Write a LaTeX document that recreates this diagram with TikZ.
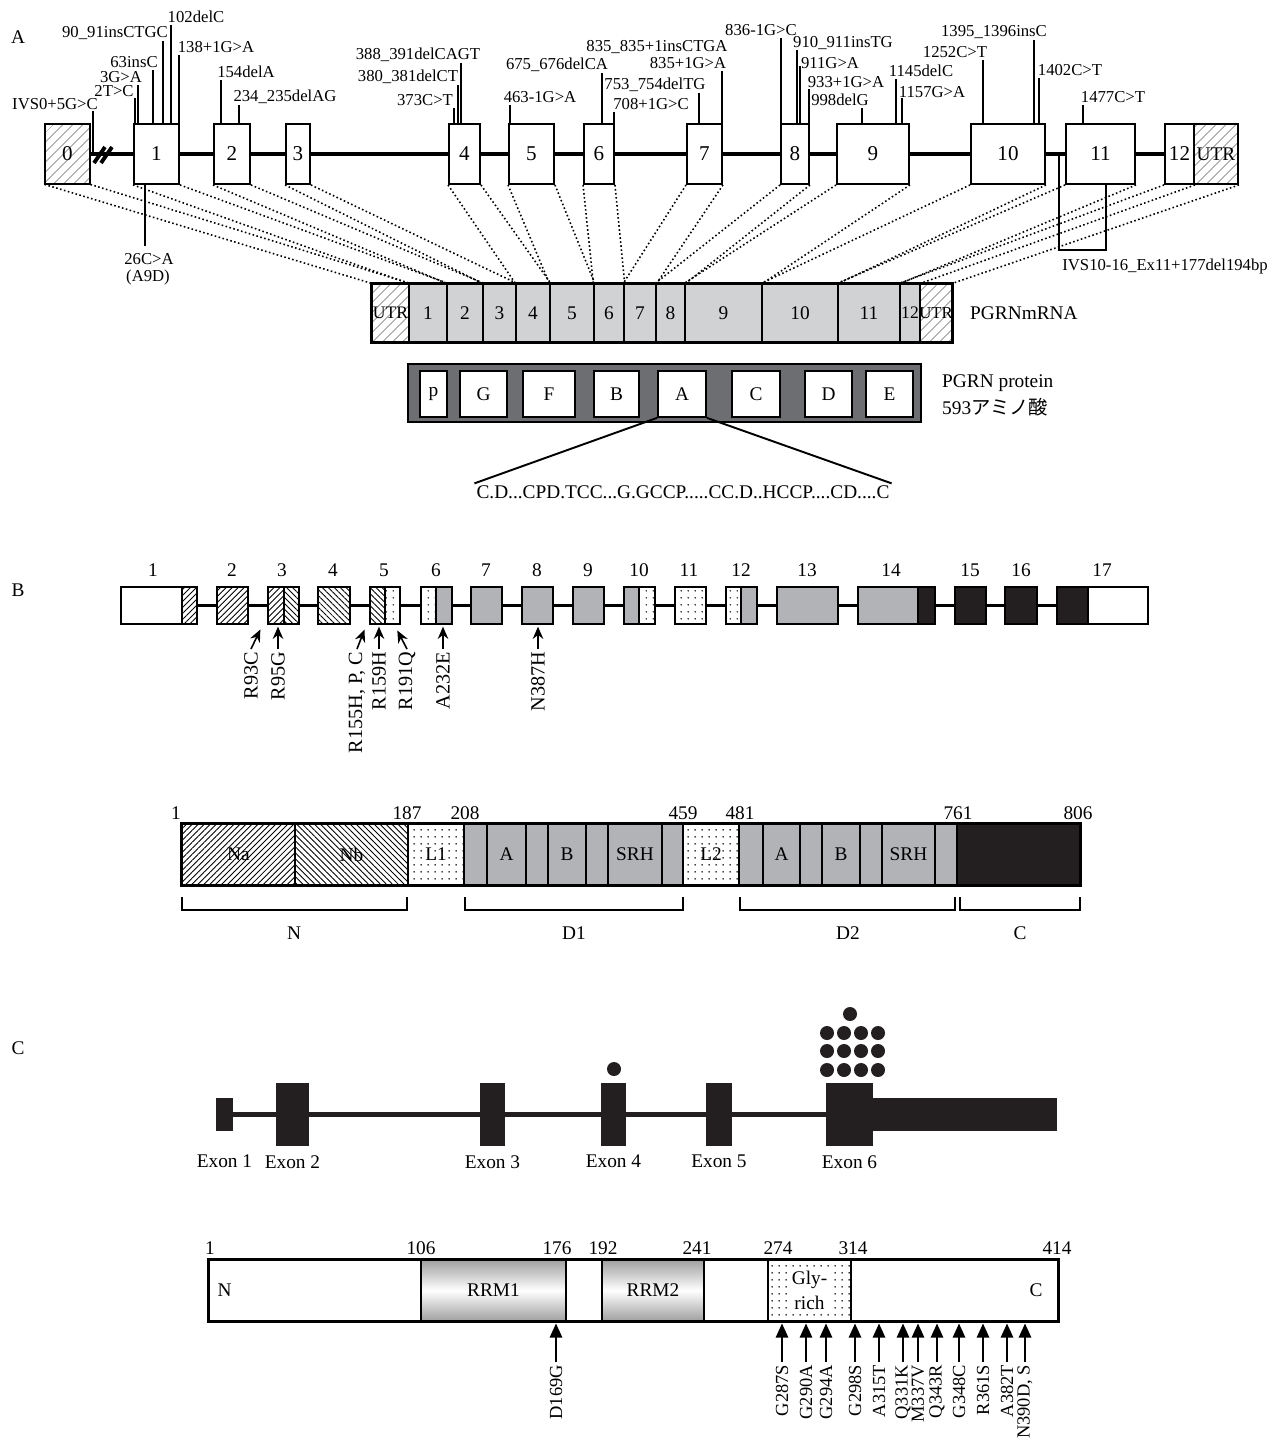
\documentclass[tikz,border=0pt]{standalone}
\usepackage{fontspec}
\setmainfont{Liberation Serif}
\newfontfamily\jafont{Noto Sans CJK JP}
\usetikzlibrary{arrows.meta,positioning,fit,patterns.meta,backgrounds}

\newcommand{\fsz}[1]{\fontsize{#1}{#1}\selectfont}
\definecolor{mgray}{HTML}{D1D2D4}
\definecolor{pgray}{HTML}{6D6E71}
\definecolor{bgray}{HTML}{B1B3B6}
\definecolor{bblack}{HTML}{231F20}
\definecolor{hgray}{HTML}{8C8C8C}

\begin{document}
\begin{tikzpicture}[x=0.02cm, y=-0.02cm,
    sec/.style={font=\fsz{11}},
    mut/.style={font=\fsz{9.5}, inner sep=0pt},
    mline/.style={line width=0.7pt},
    gline/.style={line width=2.8pt},
    tie/.style={line width=0.9pt, dash pattern=on 0.9pt off 1.4pt},
    glab/.style={label={[font=\fsz{12}]center:#1}},
    tlab/.style={label={[font=\fsz{11}]center:#1}},
    gex/.style={draw, line width=1.1pt, fill=white, inner sep=0pt},
    ghatch/.style={preaction={fill=white}, pattern={Lines[angle=45,distance=4pt,line width=0.5pt]}, pattern color=hgray},
    mcell/.style={draw, line width=0.8pt, fill=mgray, inner sep=0pt},
    pbox/.style={draw, line width=1pt, fill=white, inner sep=0pt},
    bex/.style={draw, line width=1pt, inner sep=0pt},
    bne/.style={preaction={fill=white}, pattern={Lines[angle=45,distance=2.4pt,line width=0.5pt]}},
    bnw/.style={preaction={fill=white}, pattern={Lines[angle=-45,distance=2.4pt,line width=0.5pt]}},
    bdots/.style={preaction={fill=white}, pattern={Dots[radius=0.5pt,distance=4pt]}},
    bnum/.style={font=\fsz{11}},
    barr/.style={-{Stealth[length=7pt,width=6pt]}, line width=0.9pt, shorten >=1pt},
    vlab/.style={rotate=90, anchor=east, inner sep=1.5pt, font=\fsz{11.5}},
    cvl/.style={rotate=90, anchor=east, inner sep=1.5pt, font=\fsz{10.5}},
    brk/.style={line width=1.2pt},
    cex/.style={fill=bblack, inner sep=0pt},
    cdot/.style={circle, fill=bblack, minimum size=0.28cm, inner sep=0pt},
    exl/.style={font=\fsz{11}, inner sep=0pt},
    cseg/.style={draw, line width=0.8pt, fill=white, inner sep=0pt},
    rrm/.style={top color=gray!75, bottom color=gray!75, middle color=white},
    carr/.style={-{Triangle[length=8pt,width=7pt]}, line width=1pt, shorten >=1pt}
]
\useasboundingbox (0,0) rectangle (1276,1440);

% ================= A =================
\node[sec] (secA) at (18,37) {A};

% genomic exons
\node[gex, ghatch, glab=0, fit={(45,124) (90,184)}] (g0) {};
\node[gex, glab=1, fit={(134,124) (179,184)}] (g1) {};
\node[gex, glab=2, fit={(214,124) (250,184)}] (g2) {};
\node[gex, glab=3, fit={(286,124) (310,184)}] (g3) {};
\node[gex, glab=4, fit={(449,124) (480,184)}] (g4) {};
\node[gex, glab=5, fit={(509,124) (554,184)}] (g5) {};
\node[gex, glab=6, fit={(584,124) (614,184)}] (g6) {};
\node[gex, glab=7, fit={(687,124) (722,184)}] (g7) {};
\node[gex, glab=8, fit={(781,124) (809,184)}] (g8) {};
\node[gex, glab=9, fit={(837,124) (909,184)}] (g9) {};
\node[gex, glab=10, fit={(971,124) (1045,184)}] (g10) {};
\node[gex, glab=11, fit={(1066,124) (1135,184)}] (g11) {};
\node[gex, glab=12, fit={(1165,124) (1194,184)}] (g12) {};
\node[gex, ghatch, tlab=UTR, fit={(1194,124) (1238,184)}] (gu) {};

\begin{scope}[on background layer]
\draw[gline] (g0.east) -- (g12.west);
\end{scope}
\draw[line width=2.2pt] (94,163) -- (105,147) (101,163) -- (112,147);

% mutations
\node[mut] (t1) at (55,104) {IVS0+5G>C};       \coordinate (k1) at (93,111);
\node[mut] (t2) at (114,91) {2T>C};            \coordinate (k2) at (135,98);
\node[mut] (t3) at (121,77) {3G>A};            \coordinate (k3) at (138,85);
\node[mut] (t4) at (134,62) {63insC};          \coordinate (k4) at (153,70);
\node[mut] (t5) at (115,33) {90\_91insCTGC};   \coordinate (k5) at (163,41);
\node[mut] (t6) at (196,17) {102delC};         \coordinate (k6) at (171,25);
\node[mut] (t7) at (216,47) {138+1G>A};        \coordinate (k7) at (179,55);
\node[mut] (t8) at (246,72) {154delA};         \coordinate (k8) at (221,80);
\node[mut] (t9) at (285,97) {234\_235delAG};   \coordinate (k9) at (239,105);
\node[mut] (t10) at (418,55) {388\_391delCAGT}; \coordinate (k10) at (461,63);
\node[mut] (t11) at (408,77) {380\_381delCT};  \coordinate (k11) at (458,85);
\node[mut] (t12) at (425,100) {373C>T};        \coordinate (k12) at (454,108);
\node[mut] (t13) at (540,97) {463-1G>A};       \coordinate (k13) at (510,105);
\node[mut] (t14) at (557,65) {675\_676delCA};  \coordinate (k14) at (602,73);
\node[mut] (t15) at (651,104) {708+1G>C};      \coordinate (k15) at (614,112);
\node[mut] (t16) at (655,85) {753\_754delTG};  \coordinate (k16) at (699,93);
\node[mut] (t17) at (657,47) {835\_835+1insCTGA};
\node[mut] (t18) at (688,63) {835+1G>A};       \coordinate (k18) at (722,71);
\node[mut] (t19) at (761,30) {836-1G>C};       \coordinate (k19) at (781,38);
\node[mut] (t20) at (843,43) {910\_911insTG};  \coordinate (k20) at (797,50);
\node[mut] (t21) at (830,63) {911G>A};         \coordinate (k21) at (800,66);
\node[mut] (t22) at (846,82) {933+1G>A};       \coordinate (k22) at (809,89);
\node[mut] (t23) at (840,100) {998delG};       \coordinate (k23) at (862,108);
\node[mut] (t24) at (921,71) {1145delC};       \coordinate (k24) at (896,79);
\node[mut] (t25) at (932,92) {1157G>A};        \coordinate (k25) at (902,98);
\node[mut] (t26) at (955,52) {1252C>T};        \coordinate (k26) at (983,60);
\node[mut] (t27) at (994,32) {1395\_1396insC}; \coordinate (k27) at (1034,40);
\node[mut] (t28) at (1070,70) {1402C>T};       \coordinate (k28) at (1039,78);
\node[mut] (t29) at (1113,97) {1477C>T};       \coordinate (k29) at (1083,105);

\draw[mline] (k1) -- (k1 |- g0.east);
\draw[mline] (k2) -- (k2 |- g1.north) (k3) -- (k3 |- g1.north) (k4) -- (k4 |- g1.north)
    (k5) -- (k5 |- g1.north) (k6) -- (k6 |- g1.north) (k7) -- (k7 |- g1.north);
\draw[mline] (k8) -- (k8 |- g2.north) (k9) -- (k9 |- g2.north);
\draw[mline] (k10) -- (k10 |- g4.north) (k11) -- (k11 |- g4.north) (k12) -- (k12 |- g4.north);
\draw[mline] (k13) -- (k13 |- g5.north);
\draw[mline] (k14) -- (k14 |- g6.north) (k15) -- (k15 |- g6.north);
\draw[mline] (k16) -- (k16 |- g7.north) (k18) -- (k18 |- g7.north);
\draw[mline] (k19) -- (k19 |- g8.north) (k20) -- (k20 |- g8.north) (k21) -- (k21 |- g8.north)
    (k22) -- (k22 |- g8.north);
\draw[mline] (k23) -- (k23 |- g9.north) (k24) -- (k24 |- g9.north) (k25) -- (k25 |- g9.north);
\draw[mline] (k26) -- (k26 |- g10.north) (k27) -- (k27 |- g10.north) (k28) -- (k28 |- g10.north);
\draw[mline] (k29) -- (k29 |- g11.north);

% below the gene
\coordinate (c26) at (145,246);
\draw[mline] (c26 |- g1.south) -- (c26);
\node[mut] (t26a) at (149,259) {26C>A};
\node[mut] (t26b) at (148,277) {(A9D)};
\coordinate (ivs) at (1059,250);
\coordinate (ivs2) at (1106,250);
\draw[mline] (ivs |- g10.east) -- (ivs) -- (ivs2) -- (ivs2 |- g11.south);
\node[mut, anchor=west] (tivs) at (1062,266) {IVS10-16\_Ex11+177del194bp};

% mRNA
\node[mcell, ghatch, label={[font=\fsz{10}]center:UTR}, fit={(372,284) (409,342)}] (mu1) {};
\node[mcell, tlab=1, fit={(409,284) (447,342)}] (m1) {};
\node[mcell, tlab=2, fit={(447,284) (483,342)}] (m2) {};
\node[mcell, tlab=3, fit={(483,284) (516,342)}] (m3) {};
\node[mcell, tlab=4, fit={(516,284) (550,342)}] (m4) {};
\node[mcell, tlab=5, fit={(550,284) (594,342)}] (m5) {};
\node[mcell, tlab=6, fit={(594,284) (624,342)}] (m6) {};
\node[mcell, tlab=7, fit={(624,284) (656,342)}] (m7) {};
\node[mcell, tlab=8, fit={(656,284) (685,342)}] (m8) {};
\node[mcell, tlab=9, fit={(685,284) (762,342)}] (m9) {};
\node[mcell, tlab=10, fit={(762,284) (838,342)}] (m10) {};
\node[mcell, tlab=11, fit={(838,284) (900,342)}] (m11) {};
\node[mcell, label={[font=\fsz{10}]center:12}, fit={(900,284) (920,342)}] (m12) {};
\node[mcell, ghatch, label={[font=\fsz{9.5}]center:UTR}, fit={(920,284) (952,342)}] (mu2) {};
\draw[line width=1.5pt] (mu1.north west) rectangle (mu2.south east);
\node[font=\fsz{11}, anchor=west] (lmrna) at (964,313) {PGRNmRNA};

\draw[tie] (g0.south west) -- (mu1.north west) (g0.south east) -- (mu1.north east);
\draw[tie] (g1.south west) -- (m1.north west) (g1.south east) -- (m1.north east);
\draw[tie] (g2.south west) -- (m2.north west) (g2.south east) -- (m2.north east);
\draw[tie] (g3.south west) -- (m3.north west) (g3.south east) -- (m3.north east);
\draw[tie] (g4.south west) -- (m4.north west) (g4.south east) -- (m4.north east);
\draw[tie] (g5.south west) -- (m5.north west) (g5.south east) -- (m5.north east);
\draw[tie] (g6.south west) -- (m6.north west) (g6.south east) -- (m6.north east);
\draw[tie] (g7.south west) -- (m7.north west) (g7.south east) -- (m7.north east);
\draw[tie] (g8.south west) -- (m8.north west) (g8.south east) -- (m8.north east);
\draw[tie] (g9.south west) -- (m9.north west) (g9.south east) -- (m9.north east);
\draw[tie] (g10.south west) -- (m10.north west) (g10.south east) -- (m10.north east);
\draw[tie] (g11.south west) -- (m11.north west) (g11.south east) -- (m11.north east);
\draw[tie] (g12.south west) -- (m12.north west) (g12.south east) -- (m12.north east);
\draw[tie] (gu.south east) -- (mu2.north east);

% protein
\node[draw, fill=pgray, line width=0.8pt, inner sep=0pt, fit={(408,364) (921,422)}] (prot) {};
\node[pbox, tlab=p, fit={(420,371) (447,417)}] (aP) {};
\node[pbox, tlab=G, fit={(460,371) (507,417)}] (aG) {};
\node[pbox, tlab=F, fit={(523,371) (575,417)}] (aF) {};
\node[pbox, tlab=B, fit={(594,371) (639,417)}] (aB) {};
\node[pbox, tlab=A, fit={(658,371) (706,417)}] (aA) {};
\node[pbox, tlab=C, fit={(732,371) (780,417)}] (aC) {};
\node[pbox, tlab=D, fit={(805,371) (852,417)}] (aD) {};
\node[pbox, tlab=E, fit={(866,371) (913,417)}] (aE) {};
\node[font=\fsz{11}, anchor=west] (lprot) at (936,383) {PGRN protein};
\node[font=\fsz{11}, anchor=west] (laa) at (936,407) {593{\jafont アミノ酸}};

\node[font=\fsz{11}, inner sep=1pt] (cseq) at (683,492) {C.D...CPD.TCC...G.GCCP.....CC.D..HCCP....CD....C};
\draw[line width=1.1pt] (aA.south west) -- (cseq.north west) (aA.south east) -- (cseq.north east);

% ================= B =================
\node[sec] (secB) at (18,590) {B};

\node[bex, fill=white, fit={(121,587) (182,624)}] (b1a) {};
\node[bex, bne, fit={(182,587) (197,624)}] (b1b) {};
\node[bex, bne, fit={(217,587) (248,624)}] (b2) {};
\node[bex, bne, fit={(268,587) (284,624)}] (b3a) {};
\node[bex, bnw, fit={(284,587) (299,624)}] (b3b) {};
\node[bex, bnw, fit={(318,587) (350,624)}] (b4) {};
\node[bex, bnw, fit={(370,587) (385,624)}] (b5a) {};
\node[bex, bdots, fit={(385,587) (400,624)}] (b5b) {};
\node[bex, bdots, fit={(421,587) (436,624)}] (b6a) {};
\node[bex, fill=bgray, fit={(436,587) (452,624)}] (b6b) {};
\node[bex, fill=bgray, fit={(471,587) (502,624)}] (b7) {};
\node[bex, fill=bgray, fit={(522,587) (553,624)}] (b8) {};
\node[bex, fill=bgray, fit={(573,587) (604,624)}] (b9) {};
\node[bex, fill=bgray, fit={(624,587) (639,624)}] (b10a) {};
\node[bex, bdots, fit={(639,587) (655,624)}] (b10b) {};
\node[bex, bdots, fit={(675,587) (706,624)}] (b11) {};
\node[bex, bdots, fit={(726,587) (741,624)}] (b12a) {};
\node[bex, fill=bgray, fit={(741,587) (757,624)}] (b12b) {};
\node[bex, fill=bgray, fit={(777,587) (838,624)}] (b13) {};
\node[bex, fill=bgray, fit={(858,587) (918,624)}] (b14a) {};
\node[bex, fill=bblack, fit={(918,587) (935,624)}] (b14b) {};
\node[bex, fill=bblack, fit={(955,587) (986,624)}] (b15) {};
\node[bex, fill=bblack, fit={(1005,587) (1037,624)}] (b16) {};
\node[bex, fill=bblack, fit={(1057,587) (1088,624)}] (b17a) {};
\node[bex, fill=white, fit={(1088,587) (1148,624)}] (b17b) {};
\begin{scope}[on background layer]
\draw[line width=1.9pt] (b1b.east) -- (b17a.west);
\end{scope}

\node[bnum] (n1) at (153,570) {1};   \node[bnum] (n2) at (232,570) {2};
\node[bnum] (n3) at (282,570) {3};   \node[bnum] (n4) at (333,570) {4};
\node[bnum] (n5) at (384,570) {5};   \node[bnum] (n6) at (436,570) {6};
\node[bnum] (n7) at (486,570) {7};   \node[bnum] (n8) at (537,570) {8};
\node[bnum] (n9) at (588,570) {9};   \node[bnum] (n10) at (639,570) {10};
\node[bnum] (n11) at (689,570) {11}; \node[bnum] (n12) at (741,570) {12};
\node[bnum] (n13) at (807,570) {13}; \node[bnum] (n14) at (891,570) {14};
\node[bnum] (n15) at (970,570) {15}; \node[bnum] (n16) at (1021,570) {16};
\node[bnum] (n17) at (1102,570) {17};

\node[vlab] (r93) at (251,649) {R93C};
\draw[barr] (r93.east) -- ([xshift=-0.12cm,yshift=-0.06cm]b3a.south west);
\node[vlab] (r95) at (278,649) {R95G};
\draw[barr] (r95.east) -- (r95.east |- b3a.south);
\node[vlab] (r155) at (357,649) {R155H, P, C};
\draw[barr] (r155.east) -- ([xshift=-0.08cm,yshift=-0.06cm]b5a.south west);
\node[vlab] (r159) at (379,649) {R159H};
\draw[barr] (r159.east) -- (r159.east |- b5a.south);
\node[vlab] (r191) at (407,649) {R191Q};
\draw[barr] (r191.east) -- ([xshift=0.08cm,yshift=-0.08cm]b5b.south);
\node[vlab] (a232) at (443,649) {A232E};
\draw[barr] (a232.east) -- (a232.east |- b6b.south);
\node[vlab] (n387) at (538,649) {N387H};
\draw[barr] (n387.east) -- (n387.east |- b8.south);

% protein B
\node[bex, bne, tlab=Na, fit={(182,824) (295,885)}] (qNa) {};
\node[bex, bnw, tlab=Nb, fit={(295,824) (408,885)}] (qNb) {};
\node[bex, bdots, tlab=L1, fit={(408,824) (464,885)}] (qL1) {};
\node[bex, fill=bgray, fit={(464,824) (487,885)}] (q1a) {};
\node[bex, fill=bgray, tlab=A, fit={(487,824) (526,885)}] (q1A) {};
\node[bex, fill=bgray, fit={(526,824) (548,885)}] (q1b) {};
\node[bex, fill=bgray, tlab=B, fit={(548,824) (586,885)}] (q1B) {};
\node[bex, fill=bgray, fit={(586,824) (608,885)}] (q1c) {};
\node[bex, fill=bgray, tlab=SRH, fit={(608,824) (662,885)}] (q1S) {};
\node[bex, fill=bgray, fit={(662,824) (683,885)}] (q1d) {};
\node[bex, bdots, tlab=L2, fit={(683,824) (739,885)}] (qL2) {};
\node[bex, fill=bgray, fit={(739,824) (763,885)}] (q2a) {};
\node[bex, fill=bgray, tlab=A, fit={(763,824) (800,885)}] (q2A) {};
\node[bex, fill=bgray, fit={(800,824) (822,885)}] (q2b) {};
\node[bex, fill=bgray, tlab=B, fit={(822,824) (860,885)}] (q2B) {};
\node[bex, fill=bgray, fit={(860,824) (882,885)}] (q2c) {};
\node[bex, fill=bgray, tlab=SRH, fit={(882,824) (935,885)}] (q2S) {};
\node[bex, fill=bgray, fit={(935,824) (957,885)}] (q2d) {};
\node[bex, fill=bblack, fit={(957,824) (1080,885)}] (qC) {};
\draw[line width=1.4pt] (qNa.north west) rectangle (qC.south east);

\node[bnum] (s1) at (176,813) {1};
\node[bnum] (s187) at (407,813) {187};
\node[bnum] (s208) at (465,813) {208};
\node[bnum] (s459) at (683,813) {459};
\node[bnum] (s481) at (740,813) {481};
\node[bnum] (s761) at (958,813) {761};
\node[bnum] (s806) at (1078,813) {806};

\draw[brk] (182,897) |- (407,910) -- (407,897);
\draw[brk] (465,897) |- (683,910) -- (683,897);
\draw[brk] (740,897) |- (955,910) -- (955,897);
\draw[brk] (960,897) |- (1080,910) -- (1080,897);
\node[bnum] (dN) at (294,933) {N};
\node[bnum] (dD1) at (574,933) {D1};
\node[bnum] (dD2) at (848,933) {D2};
\node[bnum] (dC) at (1020,933) {C};

% ================= C =================
\node[sec] (secC) at (18,1048) {C};

\node[cex, fit={(216,1098) (233,1131)}] (ce1) {};
\node[cex, fit={(276,1083) (309,1146)}] (ce2) {};
\node[cex, fit={(480,1083) (505,1146)}] (ce3) {};
\node[cex, fit={(601,1083) (626,1146)}] (ce4) {};
\node[cex, fit={(706,1083) (732,1146)}] (ce5) {};
\node[cex, fit={(826,1083) (873,1146)}] (ce6) {};
\node[cex, fit={(872,1098) (1057,1131)}] (ctail) {};
\begin{scope}[on background layer]
\draw[line width=2.5pt, bblack] (ce1.east) -- (ce6.west);
\end{scope}

\node[exl, below=0.17cm of ce2] (lx2) {Exon 2};
\node[exl] (lx1) at (ce1 |- lx2) {Exon 1};
\node[exl, below=0.17cm of ce3] (lx3) {Exon 3};
\node[exl, below=0.17cm of ce4] (lx4) {Exon 4};
\node[exl, below=0.17cm of ce5] (lx5) {Exon 5};
\node[exl, below=0.17cm of ce6] (lx6) {Exon 6};

\node[cdot] (d4) at (614,1069) {};
\node[cdot] (d6) at (850,1014) {};
\node[cdot] (d11) at (827,1033) {}; \node[cdot] (d12) at (844,1033) {};
\node[cdot] (d13) at (861,1033) {}; \node[cdot] (d14) at (878,1033) {};
\node[cdot] (d21) at (827,1051) {}; \node[cdot] (d22) at (844,1051) {};
\node[cdot] (d23) at (861,1051) {}; \node[cdot] (d24) at (878,1051) {};
\node[cdot] (d31) at (827,1070) {}; \node[cdot] (d32) at (844,1070) {};
\node[cdot] (d33) at (861,1070) {}; \node[cdot] (d34) at (878,1070) {};

% protein C
\node[cseg, fit={(209,1260) (421,1321)}] (cN) {};
\node[cseg, rrm, tlab=RRM1, fit={(421,1260) (566,1321)}] (cR1) {};
\node[cseg, fit={(566,1260) (602,1321)}] (cW1) {};
\node[cseg, rrm, tlab=RRM2, fit={(602,1260) (704,1321)}] (cR2) {};
\node[cseg, fit={(704,1260) (768,1321)}] (cW2) {};
\node[cseg, bdots, fit={(768,1260) (851,1321)}] (cG) {};
\node[cseg, fit={(851,1260) (1058,1321)}] (cW3) {};
\draw[line width=1.6pt] (cN.north west) rectangle (cW3.south east);
\node[fill=white, inner sep=1pt, align=center, font=\fontsize{11}{14}\selectfont] (tGly) at (cG) {Gly-\\rich};
\node[font=\fsz{11}, anchor=west] (tN) at ([xshift=0.06cm]cN.west) {N};
\node[font=\fsz{11}, anchor=east] (tC) at ([xshift=-0.2cm]cW3.east) {C};

\node[bnum] (u1) at (210,1248) {1};
\node[bnum] (u106) at (421,1248) {106};
\node[bnum] (u176) at (557,1248) {176};
\node[bnum] (u192) at (603,1248) {192};
\node[bnum] (u241) at (697,1248) {241};
\node[bnum] (u274) at (778,1248) {274};
\node[bnum] (u314) at (853,1248) {314};
\node[bnum] (u414) at (1057,1248) {414};

\node[cvl] (v169) at (556,1362) {D169G};
\draw[carr] (v169.east) -- (v169.east |- cR1.south);
\node[cvl] (v287) at (782,1362) {G287S};
\node[cvl] (v290) at (806,1362) {G290A};
\node[cvl] (v294) at (826,1362) {G294A};
\node[cvl] (v298) at (855,1362) {G298S};
\node[cvl] (v315) at (879,1362) {A315T};
\node[cvl] (v331) at (903,1362) {Q331K};
\node[cvl] (v337) at (918,1362) {M337V};
\node[cvl] (v343) at (937,1362) {Q343R};
\node[cvl] (v348) at (959,1362) {G348C};
\node[cvl] (v361) at (983,1362) {R361S};
\node[cvl] (v382) at (1007,1362) {A382T};
\node[cvl] (v390) at (1025,1362) {N390D, S};
\draw[carr] (v287.east) -- (v287.east |- cG.south);
\draw[carr] (v290.east) -- (v290.east |- cG.south);
\draw[carr] (v294.east) -- (v294.east |- cG.south);
\draw[carr] (v298.east) -- (v298.east |- cW3.south);
\draw[carr] (v315.east) -- (v315.east |- cW3.south);
\draw[carr] (v331.east) -- (v331.east |- cW3.south);
\draw[carr] (v337.east) -- (v337.east |- cW3.south);
\draw[carr] (v343.east) -- (v343.east |- cW3.south);
\draw[carr] (v348.east) -- (v348.east |- cW3.south);
\draw[carr] (v361.east) -- (v361.east |- cW3.south);
\draw[carr] (v382.east) -- (v382.east |- cW3.south);
\draw[carr] (v390.east) -- (v390.east |- cW3.south);
\end{tikzpicture}
\end{document}
